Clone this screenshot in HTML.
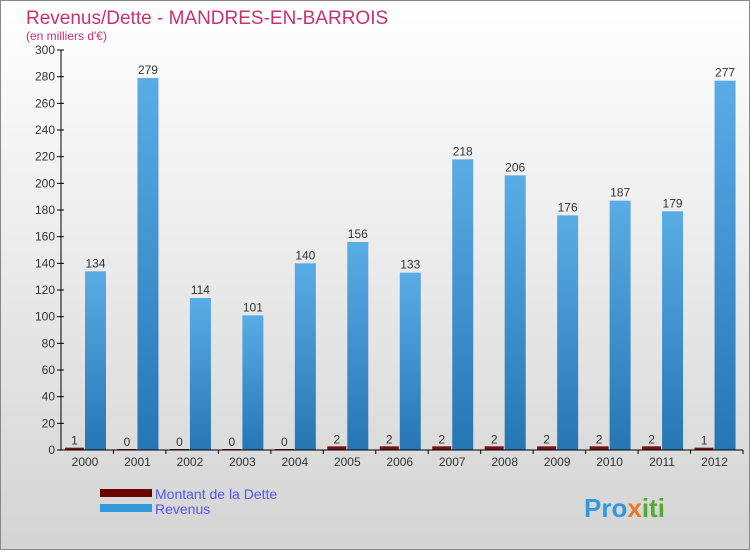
<!DOCTYPE html>
<html><head><meta charset="utf-8"><style>
body{margin:0;width:750px;height:550px;overflow:hidden;font-family:"Liberation Sans",sans-serif}
</style></head><body>
<svg width="750" height="550" xmlns="http://www.w3.org/2000/svg">
<defs>
<linearGradient id="bg" x1="0" y1="0" x2="0" y2="1"><stop offset="0" stop-color="#ffffff"/><stop offset="1" stop-color="#d4d4d4"/></linearGradient>
<linearGradient id="rev" x1="0" y1="0" x2="0" y2="1"><stop offset="0" stop-color="#5aace6"/><stop offset="1" stop-color="#2676b4"/></linearGradient>
</defs>
<rect x="0.5" y="0.5" width="749" height="549" fill="url(#bg)" stroke="#888"/>
<text x="26" y="24" font-size="19" fill="#c8336a">Revenus/Dette - MANDRES-EN-BARROIS</text>
<text x="26" y="40" font-size="12" fill="#c8336a">(en milliers d'€)</text>
<g id="plot"></g>
<rect x="100" y="489" width="52" height="8" fill="#6b0000"/>
<text x="155" y="499" font-size="14" fill="#5555ee">Montant de la Dette</text>
<rect x="100" y="504" width="52" height="8" fill="#3399dd"/>
<text x="155" y="514" font-size="14" fill="#5555ee">Revenus</text>
<text x="584" y="517" font-size="26" font-weight="bold" fill="#3399dd">Pro<tspan fill="#ee7722">x</tspan><tspan fill="#55aa33">iti</tspan></text>
</svg>
<script>
const years=["2000","2001","2002","2003","2004","2005","2006","2007","2008","2009","2010","2011","2012"];
const dette=[1,0,0,0,0,2,2,2,2,2,2,2,1];
const revenus=[134,279,114,101,140,156,133,218,206,176,187,179,277];
const ticks=[0,20,40,60,80,100,120,140,160,180,200,220,240,260,280,300];
const NS="http://www.w3.org/2000/svg";
const g=document.getElementById('plot');
const x0=61,x1=743,yb=450,yt=50,ymax=300;
const gw=(x1-x0)/years.length;
const y=v=>yb-(v/ymax)*(yb-yt);
function mk(t,a,txt){const e=document.createElementNS(NS,t);for(const k in a)e.setAttribute(k,a[k]);if(txt!==undefined)e.textContent=txt;g.appendChild(e);return e;}
ticks.forEach(t=>{
 const l=mk('line',{x1:x0-4,x2:x0+3,y1:y(t),y2:y(t),stroke:'#000'});
 
 
 const tx=mk('text',{x:x0-6,y:y(t)+4,'font-size':12,'text-anchor':'end',fill:'#333'},t);
 
 
});
years.forEach((yr,i)=>{
 const gx=x0+i*gw;
 const d=mk('rect',{x:gx+4,y:y(dette[i])-1,width:19,height:yb-y(dette[i])+1,fill:'#7a1010'});
 
 
 const dl=mk('text',{x:gx+13.5,y:y(dette[i])-4,'font-size':12,'text-anchor':'middle',fill:'#333'},dette[i]);
 
 
 const r=mk('rect',{x:gx+24,y:y(revenus[i]),width:21,height:yb-y(revenus[i]),fill:'url(#rev)'});
 
 
 const rl=mk('text',{x:gx+34.5,y:y(revenus[i])-4,'font-size':12,'text-anchor':'middle',fill:'#333'},revenus[i]);
 
 
 const xt=mk('line',{x1:gx+gw,x2:gx+gw,y1:yb,y2:yb+4,stroke:'#000'});
 
 
 const xl=mk('text',{x:gx+24,y:yb+16,'font-size':12,'text-anchor':'middle',fill:'#333'},yr);
 
 
});
const ax=mk('line',{x1:x0,x2:x0,y1:yt,y2:yb,stroke:'#000'});


const bx=mk('line',{x1:x0,x2:x1,y1:yb,y2:yb,stroke:'#000'});


</script>
</body></html>
